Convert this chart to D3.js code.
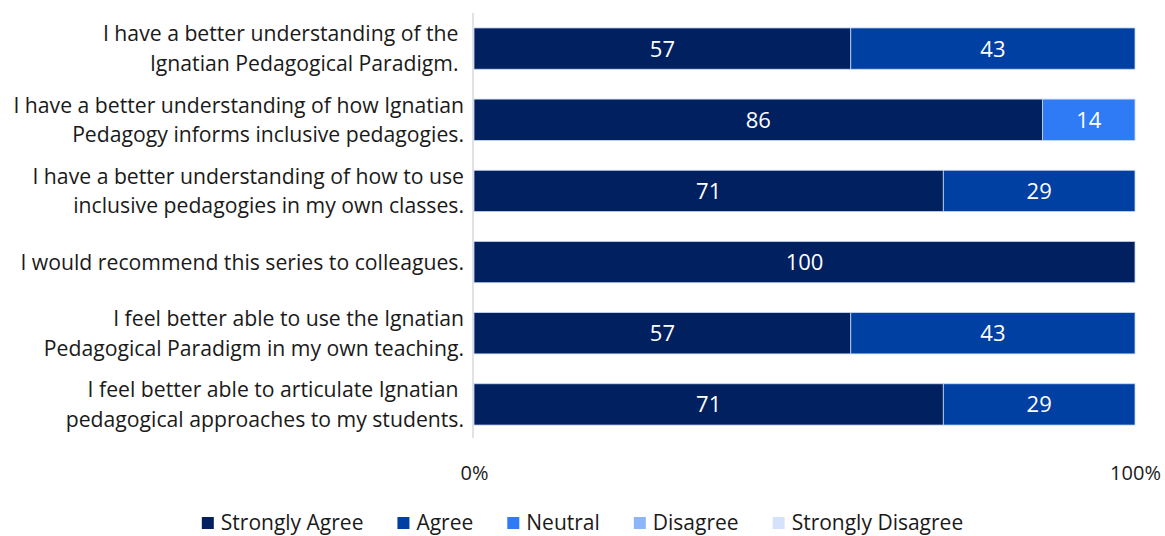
<!DOCTYPE html>
<html>
<head>
<meta charset="utf-8">
<script src="https://cdn.jsdelivr.net/npm/d3@7"></script>
<style>
  html, body { margin: 0; padding: 0; background: #fff; }
  svg { display: block; font-family: "Segoe UI", "Open Sans", "Noto Sans", sans-serif; }
</style>
</head>
<body>
<svg id="chart" width="1165" height="536"></svg>
<script>
// Survey statements (each entry is the lines of the wrapped label)
const statements = [
  ["I have a better understanding of the ", "Ignatian Pedagogical Paradigm. "],
  ["I have a better understanding of how Ignatian", "Pedagogy informs inclusive pedagogies."],
  ["I have a better understanding of how to use", "inclusive pedagogies in my own classes."],
  ["I would recommend this series to colleagues."],
  ["I feel better able to use the Ignatian", "Pedagogical Paradigm in my own teaching."],
  ["I feel better able to articulate Ignatian ", "pedagogical approaches to my students."]
];

const responseLevels = ["Strongly Agree", "Agree", "Neutral", "Disagree", "Strongly Disagree"];

// Percent of respondents per level, one array per level, in statement order
const stronglyAgree    = [57, 86, 71, 100, 57, 71];
const agree            = [43, 0, 29, 0, 43, 29];
const neutral          = [0, 14, 0, 0, 0, 0];
const disagree         = [0, 0, 0, 0, 0, 0];
const stronglyDisagree = [0, 0, 0, 0, 0, 0];

const xTickLabels = ["0%", "100%"];

const levelColors = ["#002060", "#0040a3", "#2f7bf5", "#8db6fa", "#d4e3fb"];

const seriesValues = [stronglyAgree, agree, neutral, disagree, stronglyDisagree];

const rows = statements.map((s, i) => {
  const r = { id: i, label: s };
  responseLevels.forEach((lvl, k) => { r[lvl] = seriesValues[k][i]; });
  return r;
});

const svg = d3.select("#chart");
const margin = { top: 13, right: 30, bottom: 98, left: 474 };
const width = 1165, height = 536;

const x = d3.scaleLinear().domain([0, 100]).range([margin.left, 1135]);
const y = d3.scaleBand()
  .domain(rows.map(r => r.id))
  .range([margin.top, 440])
  .paddingInner(0.42)
  .paddingOuter(0.21);

const color = d3.scaleOrdinal().domain(responseLevels).range(levelColors);

const stacked = d3.stack().keys(responseLevels)(rows);

// Category axis line
svg.append("line")
  .attr("x1", margin.left - 1).attr("x2", margin.left - 1)
  .attr("y1", margin.top).attr("y2", 438)
  .attr("stroke", "#d9d9d9").attr("stroke-width", 1.5);

// Stacked bar segments
const layers = svg.append("g").selectAll("g")
  .data(stacked)
  .join("g")
  .attr("fill", d => color(d.key));

layers.selectAll("rect")
  .data(d => d.filter(p => p[1] - p[0] > 0))
  .join("rect")
  .attr("x", p => x(p[0]))
  .attr("y", p => y(p.data.id))
  .attr("width", p => x(p[1]) - x(p[0]))
  .attr("height", y.bandwidth())
  .attr("stroke", "#c5d7f2")
  .attr("stroke-width", 0.8);

// Value labels inside segments
layers.selectAll("text")
  .data(d => d.filter(p => p[1] - p[0] > 0))
  .join("text")
  .attr("x", p => (x(p[0]) + x(p[1])) / 2)
  .attr("y", p => y(p.data.id) + y.bandwidth() / 2)
  .attr("dy", "0.36em")
  .attr("text-anchor", "middle")
  .attr("fill", "#fff")
  .attr("font-size", 22)
  .text(p => p[1] - p[0]);

// Statement labels
const lineH = 29.5;
const labelG = svg.append("g");
rows.forEach(r => {
  const cy = y(r.id) + y.bandwidth() / 2;
  const n = r.label.length;
  const t = labelG.append("text")
    .attr("text-anchor", "end")
    .attr("font-size", 21.2)
    .attr("fill", "#1a1a1a")
    .style("white-space", "pre");
  r.label.forEach((line, k) => {
    t.append("tspan")
      .attr("x", 464)
      .attr("y", cy + (k - (n - 1) / 2) * lineH)
      .attr("dy", "0.36em")
      .text(line);
  });
});

// Value axis tick labels
const xAxis = d3.axisBottom(x)
  .tickValues([0, 100])
  .tickFormat((d, i) => xTickLabels[i])
  .tickSize(0)
  .tickPadding(0);
const axisG = svg.append("g")
  .attr("transform", "translate(0,466)")
  .call(xAxis);
axisG.select(".domain").remove();
axisG.selectAll("text")
  .attr("font-family", "\"Segoe UI\", \"Open Sans\", \"Noto Sans\", sans-serif")
  .attr("font-size", 20)
  .attr("fill", "#1a1a1a");

// Legend
const legend = svg.append("g").attr("transform", "translate(0,522)");
const items = legend.selectAll("g")
  .data(responseLevels)
  .join("g");
items.append("rect")
  .attr("width", 12).attr("height", 12)
  .attr("y", -5)
  .attr("fill", d => color(d));
items.append("text")
  .attr("x", 19)
  .attr("dy", "0.36em")
  .attr("font-size", 21)
  .attr("fill", "#1a1a1a")
  .text(d => d);

const gap = 34;
let cursor = 0;
const positions = [];
items.each(function() {
  const w = this.getBBox().width;
  positions.push(cursor);
  cursor += w + gap;
});
const total = cursor - gap;
const startX = (width - total) / 2;
items.attr("transform", (d, i) => `translate(${startX + positions[i]},0)`);
</script>
</body>
</html>
